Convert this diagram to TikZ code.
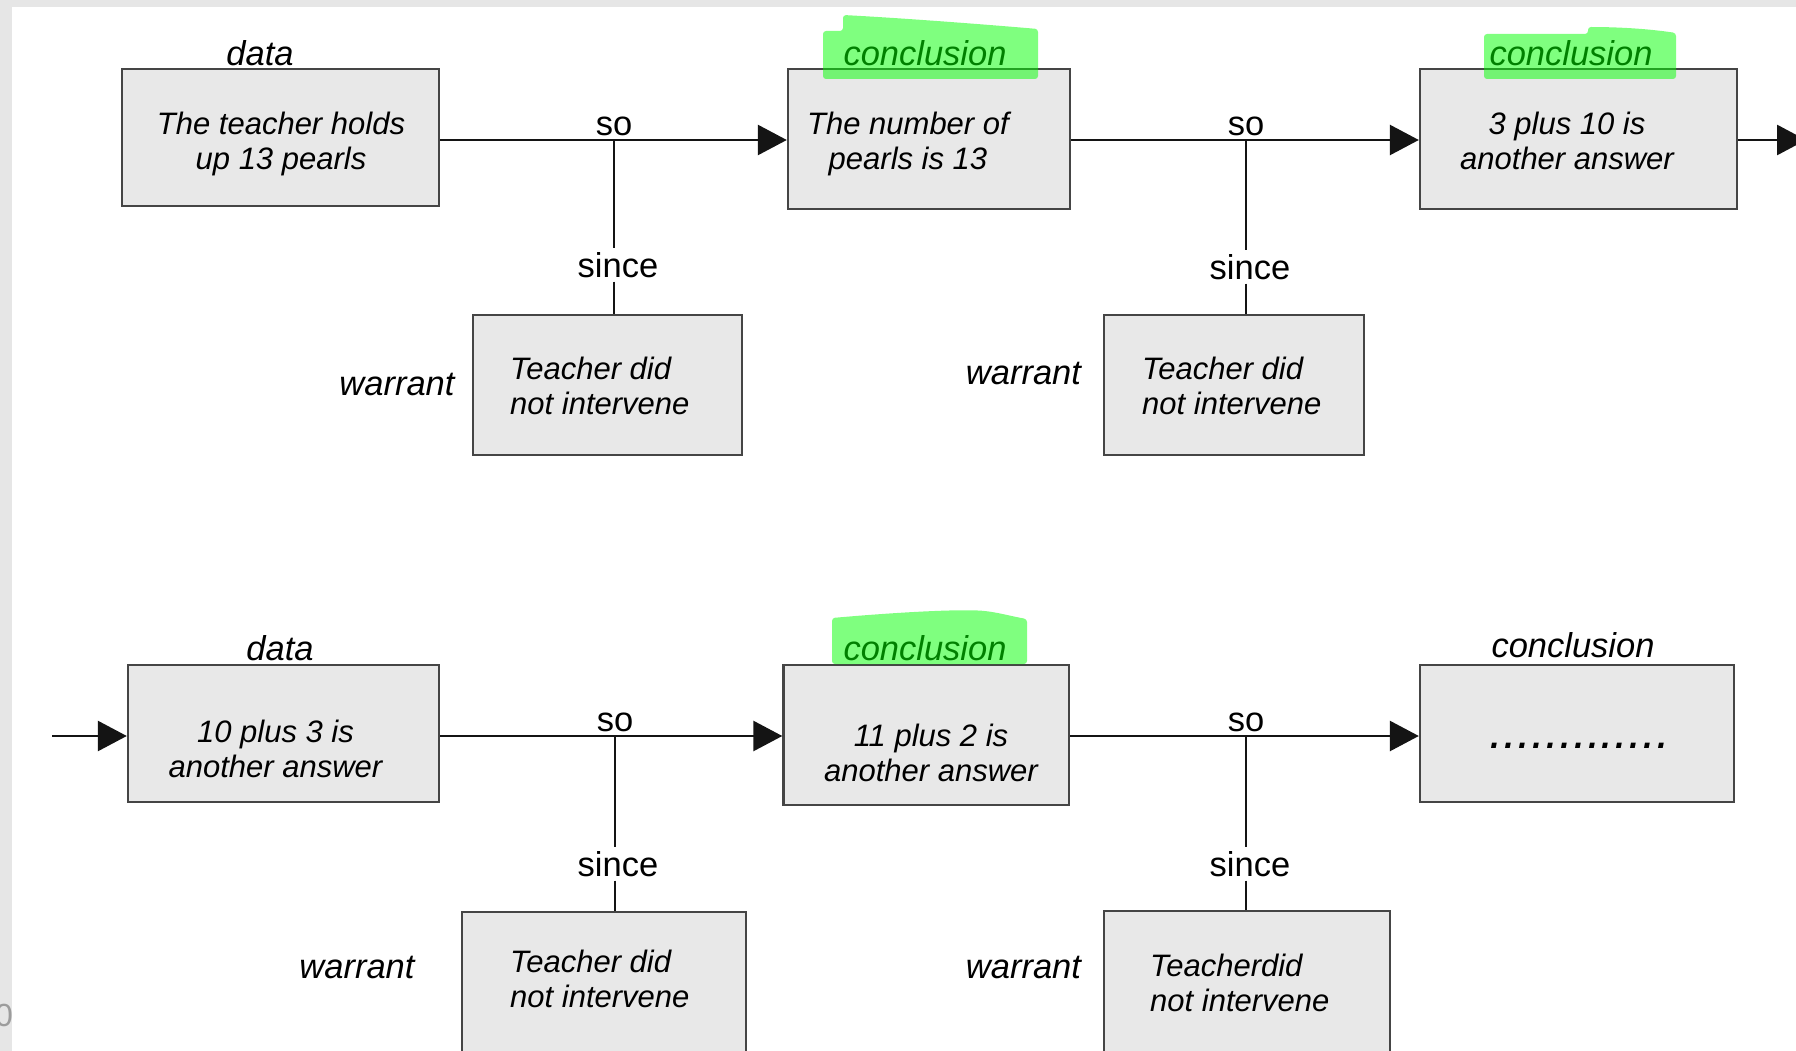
\documentclass[tikz,border=0pt]{standalone}
\usepackage{fontspec}
\setmainfont{Liberation Sans}
\usetikzlibrary{arrows.meta}

% two stacked lines whose reference point is the first baseline
\newcommand{\twolines}[3][c]{\begin{tabular}[t]{@{}#1@{}}#2\\#3\end{tabular}}

\definecolor{boxfill}{HTML}{E8E8E8}
\definecolor{boxline}{HTML}{454545}
\definecolor{framegray}{HTML}{E6E6E6}
\definecolor{hlgreen}{RGB}{0,255,0}
\definecolor{inkgray}{HTML}{9C9C9C}

\tikzset{
  argbox/.style={rectangle, draw=boxline, fill=boxfill, line width=2.4pt, inner sep=0pt},
  boxtext/.style={font=\fontsize{31}{35}\selectfont\itshape, inner sep=0pt, anchor=base, yshift=-2.5pt},
  roletag/.style={font=\fontsize{34.5}{40}\selectfont\itshape, inner sep=0pt, anchor=base, yshift=-2.5pt},
  linktag/.style={font=\fontsize{34.5}{40}\selectfont, inner sep=0pt, anchor=base, yshift=-2.5pt},
  sincetag/.style={linktag, inner ysep=4pt, text height=25pt, text depth=0pt},
  wire/.style={line width=2.8pt, draw=black!92},
  flow/.style={wire, -{Triangle[length=29pt,width=30pt]}},
  hilite/.style={fill=hlgreen, fill opacity=0.5, draw=none, rounded corners=3pt},
}

\begin{document}
\begin{tikzpicture}[x=1pt, y=-1pt]
  \useasboundingbox (0,0) rectangle (1796,1051);
  \clip (0,0) rectangle (1796,1051);
  \fill[white] (0,0) rectangle (1796,1051);

  % window frame strips
  \fill[framegray] (0,0) rectangle (1796,7);
  \fill[framegray] (0,0) rectangle (12,1051);
  \node[font=\fontsize{32}{36}\selectfont, text=inkgray, inner sep=0pt, anchor=base east] (edgeglyph) at (13,1026) {0};

  % junction points on the two main lines
  \coordinate (j1) at (614,140);
  \coordinate (j2) at (1246,140);
  \coordinate (out1) at (1806,140);
  \coordinate (in2) at (52,736);
  \coordinate (j3) at (615,736);
  \coordinate (j4) at (1246,736);

  % ---------- first row ----------
  \node[argbox, minimum width=317pt, minimum height=137pt] (d1) at (280.5,137.5) {};
  \node[argbox, minimum width=282pt, minimum height=140pt] (c1) at (929,139) {};
  \node[argbox, minimum width=317pt, minimum height=140pt] (c2) at (1578.5,139) {};
  \node[argbox, minimum width=269pt, minimum height=140pt] (w1) at (607.5,385) {};
  \node[argbox, minimum width=260pt, minimum height=140pt] (w2) at (1234,385) {};

  \node[boxtext] (d1text) at (281,132) {\twolines{The teacher holds}{up 13 pearls}};
  \node[boxtext] (c1text) at (908,132) {\twolines{The number of}{pearls is 13}};
  \node[boxtext] (c2text) at (1567,132) {\twolines{3 plus 10 is}{another answer}};
  \node[boxtext, anchor=base west] (w1text) at (510,377) {\twolines[l]{Teacher did}{not intervene}};
  \node[boxtext, anchor=base west] (w2text) at (1142,377) {\twolines[l]{Teacher did}{not intervene}};

  \node[roletag] (d1tag) at (260,63) {data};
  \node[roletag] (c1tag) at (925,63) {conclusion};
  \node[roletag] (c2tag) at (1571,63) {conclusion};
  \node[roletag] (w1tag) at (397,393) {warrant};
  \node[roletag] (w2tag) at (1023.5,382) {warrant};

  \node[linktag] (so1) at (614,133) {so};
  \node[linktag] (so2) at (1246,133) {so};
  \node[sincetag] (since1) at (618,275) {since};
  \node[sincetag] (since2) at (1250,277) {since};

  \draw[flow] (d1.east |- j1) -- (c1.west |- j1);
  \draw[flow] (c1.east |- j2) -- (c2.west |- j2);
  \draw[flow] (c2.east |- out1) -- (out1);
  \draw[wire] (j1) -- (j1 |- since1.north);
  \draw[wire] (j1 |- since1.south) -- (j1 |- w1.north);
  \draw[wire] (j2) -- (j2 |- since2.north);
  \draw[wire] (j2 |- since2.south) -- (j2 |- w2.north);

  % ---------- second row ----------
  \node[argbox, minimum width=311pt, minimum height=137pt] (d2) at (283.5,733.5) {};
  \node[argbox, minimum width=285.5pt, minimum height=140pt] (c3) at (926.25,735) {};
  \node[argbox, minimum width=314pt, minimum height=137pt] (c4) at (1577,733.5) {};
  \node[argbox, minimum width=284pt, minimum height=150pt] (w3) at (604,987) {};
  \node[argbox, minimum width=286pt, minimum height=150pt] (w4) at (1247,986) {};

  \node[boxtext] (d2text) at (275.5,740) {\twolines{10 plus 3 is}{another answer}};
  \node[boxtext] (c3text) at (931,744) {\twolines{11 plus 2 is}{another answer}};
  \node[font=\fontsize{50}{56}\selectfont\itshape, inner sep=0pt, anchor=base] (c4text) at (1580,748) {.............};
  \node[boxtext, anchor=base west] (w3text) at (510,970) {\twolines[l]{Teacher did}{not intervene}};
  \node[boxtext, anchor=base west] (w4text) at (1150,974) {\twolines[l]{Teacherdid}{not intervene}};

  \node[roletag] (d2tag) at (280,658) {data};
  \node[roletag] (c3tag) at (925,658) {conclusion};
  \node[roletag] (c4tag) at (1573,655) {conclusion};
  \node[roletag] (w3tag) at (357,976) {warrant};
  \node[roletag] (w4tag) at (1023.5,976) {warrant};

  \node[linktag] (so3) at (615,729) {so};
  \node[linktag] (so4) at (1246,729) {so};
  \node[sincetag] (since3) at (618,874) {since};
  \node[sincetag] (since4) at (1250,874) {since};

  \draw[flow] (in2) -- (d2.west |- in2);
  \draw[flow] (d2.east |- j3) -- (c3.west |- j3);
  \draw[flow] (c3.east |- j4) -- (c4.west |- j4);
  \draw[wire] (j3) -- (j3 |- since3.north);
  \draw[wire] (j3 |- since3.south) -- (j3 |- w3.north);
  \draw[wire] (j4) -- (j4 |- since4.north);
  \draw[wire] (j4 |- since4.south) -- (j4 |- w4.north);

  % ---------- highlighter strokes over the conclusion tags ----------
  \fill[hilite] (823,31) -- (843,31) -- (843,15)
    .. controls (900,18) and (980,24) .. (1038,29) -- (1038,79) -- (823,79) -- cycle;
  \fill[hilite] (1484,34) -- (1588,34) -- (1588,27)
    .. controls (1620,27) and (1650,29) .. (1676,33) -- (1676,79) -- (1484,79) -- cycle;
  \fill[hilite] (832,664) -- (832,618)
    .. controls (900,612) and (960,609) .. (985,611)
    .. controls (1000,613) and (1015,617) .. (1027,619) -- (1027,664) -- cycle;
\end{tikzpicture}
\end{document}
